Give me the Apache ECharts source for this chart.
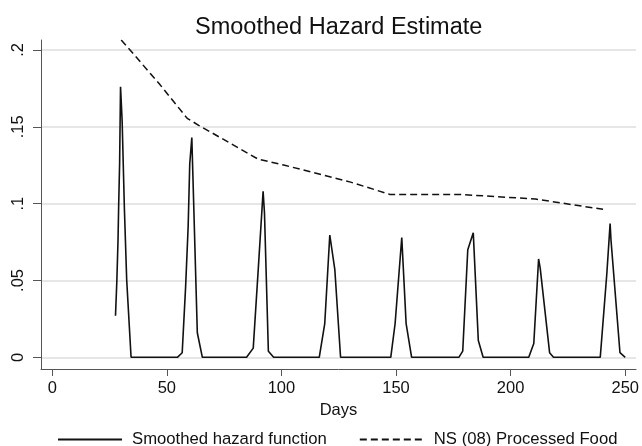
<!DOCTYPE html>
<html>
<head>
<meta charset="utf-8">
<script src="https://cdn.jsdelivr.net/npm/echarts@6/dist/echarts.min.js"></script>
<style>
html,body{margin:0;padding:0;background:#fff;}
#chart{width:642px;height:446px;}
</style>
</head>
<body>
<div id="chart"></div>
<script>
// ---- data ----
var hazardDays = [27.6,28.2,28.7,29.0,29.4,29.8,30.5,31.5,32.5,34.4,
  54.6,56.7,58.2,59.3,60.0,60.9,61.3,63.3,65.5,
  84.8,87.7,90.0,92.0,92.6,94.3,96.6,
  116.5,118.9,121.1,123.3,125.8,
  147.7,149.6,152.5,154.4,156.8,
  177.4,179.1,181.3,183.7,185.9,188.0,
  207.9,210.1,212.2,212.9,217.0,218.7,
  239.1,242.0,243.4,243.8,247.7,250.0];
var hazardValues = [0.027,0.050,0.076,0.100,0.126,0.176,0.154,0.096,0.050,0,
  0,0.003,0.046,0.085,0.126,0.143,0.122,0.016,0,
  0,0.006,0.060,0.108,0.094,0.004,0,
  0,0.022,0.0796,0.057,0,
  0,0.022,0.078,0.022,0,
  0,0.004,0.070,0.081,0.011,0,
  0,0.009,0.064,0.058,0.003,0,
  0,0.055,0.087,0.076,0.003,0];
var nsDays =   [30.1, 35.1, 46.7, 58.9, 63.9, 89.8, 101.4, 130.2, 147.4, 159.0, 177.7, 210.8, 240.3];
var nsValues = [0.2065,0.198,0.178,0.1555,0.151,0.129,0.125,0.114,0.106,0.106,0.106,0.103,0.0963];
var xTicks = [0,50,100,150,200,250];
var yTicks = [0,0.05,0.1,0.15,0.2];
var yTickLabels = ['0','.05','.1','.15','.2'];
var seriesNames = ['Smoothed hazard function','NS (08) Processed Food'];

function pairs(xs, ys){ var out=[]; for(var i=0;i<xs.length;i++) out.push([xs[i], ys[i]]); return out; }

var FONT = '"Liberation Sans", Arial, sans-serif';
var chart = echarts.init(document.getElementById('chart'), null, {renderer:'canvas'});
chart.setOption({
  animation:false,
  backgroundColor:'#ffffff',
  title:{
    text:'Smoothed Hazard Estimate',
    left:195, top:16, padding:0,
    textStyle:{fontFamily:FONT, fontSize:23.5, fontWeight:'normal', color:'#111'}
  },
  legend:{
    left:57, top:431, padding:0,
    itemWidth:64, itemHeight:14, itemGap:32,
    data:seriesNames,
    itemStyle:{opacity:0, color:'rgba(0,0,0,0)', borderWidth:0},
    textStyle:{fontFamily:FONT, fontSize:16.7, color:'#111', padding:[0,0,0,5]}
  },
  grid:{left:41, top:40, right:0, bottom:77, containLabel:false},
  xAxis:{
    type:'value', min:-4.9, max:254.7,
    name:'Days', nameLocation:'middle', nameGap:25,
    nameTextStyle:{fontFamily:FONT, fontSize:16.5, color:'#111'},
    axisLine:{show:true, onZero:false, lineStyle:{color:'#555', width:1}},
    axisTick:{show:true, length:7, customValues:xTicks, lineStyle:{color:'#555'}},
    axisLabel:{customValues:xTicks, margin:11, fontFamily:FONT, fontSize:16.5, color:'#111'},
    splitLine:{show:false}
  },
  yAxis:{
    type:'value', min:-0.0076, max:0.2065,
    axisLine:{show:true, onZero:false, lineStyle:{color:'#555', width:1}},
    axisTick:{show:true, length:8, customValues:yTicks, lineStyle:{color:'#555'}},
    axisLabel:{customValues:yTicks, rotate:90, margin:14, fontFamily:FONT, fontSize:16.5, color:'#111',
      formatter:function(v){ for(var i=0;i<yTicks.length;i++){ if(Math.abs(yTicks[i]-v)<1e-9) return yTickLabels[i]; } return ''; }},
    splitLine:{show:true, lineStyle:{color:'#dedede', width:1.5}}
  },
  series:[
    {name:seriesNames[0], type:'line', data:pairs(hazardDays,hazardValues), symbol:'none', showSymbol:false,
     lineStyle:{color:'#111', width:1.6}, itemStyle:{color:'#111'}, z:3},
    {name:seriesNames[1], type:'line', data:pairs(nsDays,nsValues), symbol:'none', showSymbol:false,
     lineStyle:{color:'#111', width:1.5, type:[7,4]}, itemStyle:{color:'#111'}, z:2}
  ]
});
</script>
</body>
</html>
